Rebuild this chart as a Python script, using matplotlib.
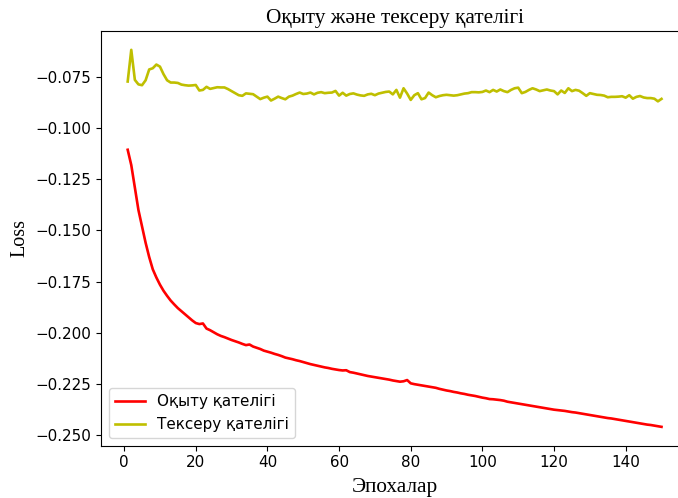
import matplotlib
matplotlib.use("Agg")
import matplotlib.pyplot as plt

epochs = list(range(1, 151))

train_loss = [
    -0.1105, -0.1180, -0.1290, -0.1400, -0.1480, -0.1560, -0.1630, -0.1690, -0.1730, -0.1765,
    -0.1795, -0.1820, -0.1843, -0.1862, -0.1880, -0.1895, -0.1910, -0.1925, -0.1940, -0.1953,
    -0.1958, -0.1955, -0.1980, -0.1988, -0.1998, -0.2008, -0.2016, -0.2022, -0.2029, -0.2036,
    -0.2042, -0.2048, -0.2055, -0.2061, -0.2058, -0.2068, -0.2074, -0.2080, -0.2088, -0.2093,
    -0.2098, -0.2104, -0.2109, -0.2115, -0.2122, -0.2126, -0.2130, -0.2135, -0.2139, -0.2144,
    -0.2149, -0.2154, -0.2158, -0.2162, -0.2166, -0.2170, -0.2173, -0.2177, -0.2180, -0.2183,
    -0.2185, -0.2184, -0.2193, -0.2196, -0.2200, -0.2204, -0.2208, -0.2212, -0.2215, -0.2218,
    -0.2221, -0.2224, -0.2227, -0.2230, -0.2234, -0.2237, -0.2240, -0.2238, -0.2232, -0.2248,
    -0.2252, -0.2255, -0.2258, -0.2261, -0.2264, -0.2267, -0.2270, -0.2275, -0.2279, -0.2283,
    -0.2286, -0.2290, -0.2293, -0.2297, -0.2300, -0.2304, -0.2307, -0.2310, -0.2314, -0.2318,
    -0.2321, -0.2325, -0.2326, -0.2328, -0.2330, -0.2333, -0.2338, -0.2341, -0.2344, -0.2347,
    -0.2350, -0.2353, -0.2356, -0.2359, -0.2362, -0.2365, -0.2368, -0.2371, -0.2374, -0.2377,
    -0.2379, -0.2381, -0.2383, -0.2386, -0.2389, -0.2391, -0.2394, -0.2397, -0.2400, -0.2403,
    -0.2406, -0.2409, -0.2412, -0.2415, -0.2418, -0.2420, -0.2423, -0.2426, -0.2429, -0.2432,
    -0.2435, -0.2438, -0.2441, -0.2444, -0.2447, -0.2450, -0.2452, -0.2455, -0.2458, -0.2461,
]

val_loss = [
    -0.0771, -0.0616, -0.0763, -0.0785, -0.0789, -0.0765, -0.0712, -0.0706, -0.0688, -0.0698,
    -0.0735, -0.0765, -0.0776, -0.0776, -0.0778, -0.0786, -0.0789, -0.0791, -0.0790, -0.0788,
    -0.0815, -0.0812, -0.0797, -0.0807, -0.0803, -0.0799, -0.0800, -0.0800, -0.0808, -0.0818,
    -0.0828, -0.0838, -0.0841, -0.0829, -0.0831, -0.0833, -0.0845, -0.0857, -0.0850, -0.0845,
    -0.0864, -0.0855, -0.0845, -0.0852, -0.0858, -0.0845, -0.0840, -0.0832, -0.0825, -0.0832,
    -0.0830, -0.0825, -0.0834, -0.0826, -0.0823, -0.0828, -0.0826, -0.0825, -0.0817, -0.0840,
    -0.0826, -0.0840, -0.0832, -0.0829, -0.0835, -0.0839, -0.0841, -0.0834, -0.0831, -0.0838,
    -0.0830, -0.0826, -0.0822, -0.0820, -0.0834, -0.0812, -0.0850, -0.0804, -0.0830, -0.0861,
    -0.0838, -0.0828, -0.0858, -0.0852, -0.0825, -0.0838, -0.0848, -0.0842, -0.0838, -0.0836,
    -0.0838, -0.0840, -0.0838, -0.0834, -0.0830, -0.0828, -0.0823, -0.0823, -0.0824, -0.0822,
    -0.0815, -0.0823, -0.0812, -0.0820, -0.0810, -0.0818, -0.0823, -0.0812, -0.0804, -0.0801,
    -0.0828, -0.0822, -0.0812, -0.0804, -0.0810, -0.0818, -0.0814, -0.0810, -0.0815, -0.0818,
    -0.0834, -0.0815, -0.0827, -0.0804, -0.0818, -0.0812, -0.0816, -0.0828, -0.0841, -0.0828,
    -0.0832, -0.0836, -0.0837, -0.0840, -0.0848, -0.0846, -0.0846, -0.0845, -0.0843, -0.0850,
    -0.0838, -0.0855, -0.0846, -0.0842, -0.0849, -0.0852, -0.0852, -0.0855, -0.0868, -0.0856,
]

title = "Оқыту және тексеру қателігі"
xlabel = "Эпохалар"
ylabel = "Loss"
train_label = "Оқыту қателігі"
val_label = "Тексеру қателігі"

serif = ["Liberation Serif", "DejaVu Serif"]

fig = plt.figure(figsize=(6.78, 4.98), dpi=100)
ax = fig.add_axes([101 / 678, 52.3 / 498, (688.2 - 101) / 678, (467 - 52.3) / 498])

ax.plot(epochs, train_loss, color="red", lw=1.9, label=train_label)
ax.plot(epochs, val_loss, color="y", lw=1.9, label=val_label)

ax.set_title(title, fontsize=15.3, family=serif, pad=6)
ax.set_xlabel(xlabel, fontsize=15.3, family=serif, labelpad=5.5)
ax.set_ylabel(ylabel, fontsize=14.5, family=serif, labelpad=4)
ax.tick_params(labelsize=10.9)
ax.legend(loc="lower left", fontsize=10.9)

fig.savefig("out.png", dpi=100)
